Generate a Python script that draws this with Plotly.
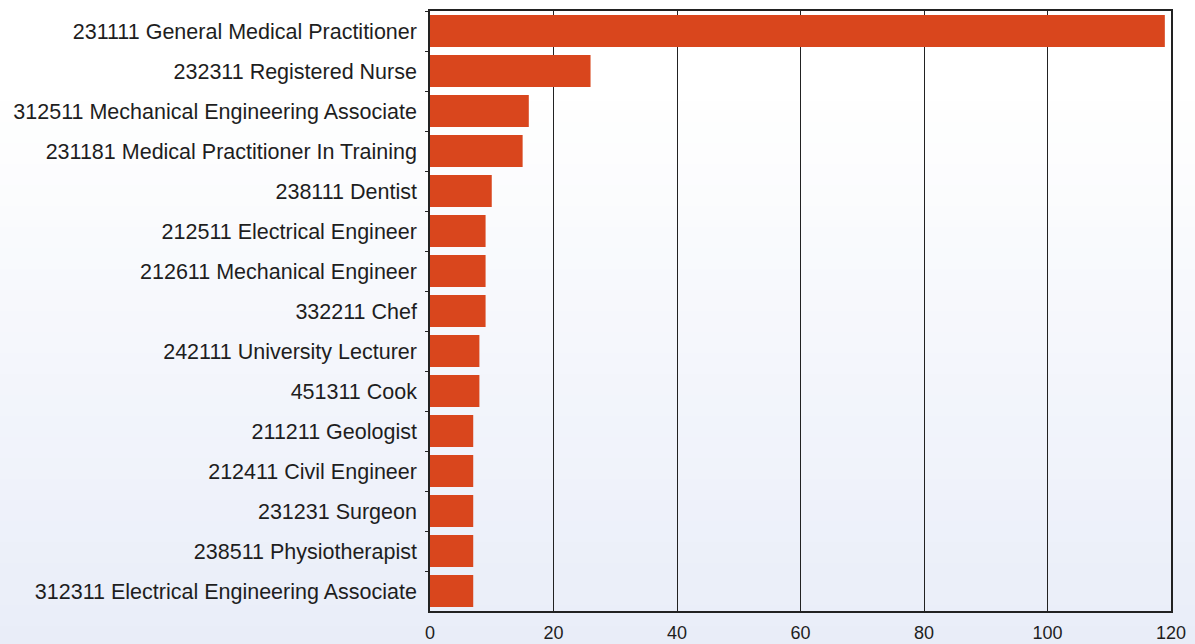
import plotly.graph_objects as go

occupations = [
    "231111 General Medical Practitioner",
    "232311 Registered Nurse",
    "312511 Mechanical Engineering Associate",
    "231181 Medical Practitioner In Training",
    "238111 Dentist",
    "212511 Electrical Engineer",
    "212611 Mechanical Engineer",
    "332211 Chef",
    "242111 University Lecturer",
    "451311 Cook",
    "211211 Geologist",
    "212411 Civil Engineer",
    "231231 Surgeon",
    "238511 Physiotherapist",
    "312311 Electrical Engineering Associate",
]
counts = [119, 26, 16, 15, 10, 9, 9, 9, 8, 8, 7, 7, 7, 7, 7]
x_ticks = [0, 20, 40, 60, 80, 100, 120]

BAR = "#D9461D"
FONT = "Liberation Sans, Arial, sans-serif"

fig = go.Figure(go.Bar(
    x=counts, y=occupations, orientation="h",
    marker=dict(color=BAR, line=dict(width=0)),
    hoverinfo="x+y",
))

# soft vertical background gradient (white at top -> pale blue at bottom)
shapes = []
n = 40
for i in range(n):
    t = i / (n - 1)  # 0 bottom, 1 top
    f = min(1.0, max(0.0, t / 0.75))
    r = int(230 + (255 - 230) * f)
    g = int(235 + (255 - 235) * f)
    b = int(248 + (255 - 248) * f)
    shapes.append(dict(type="rect", xref="paper", yref="paper",
                       x0=-1, x1=2, y0=-0.2 + 1.4 * i / n, y1=-0.2 + 1.4 * (i + 1) / n,
                       fillcolor=f"rgb({r},{g},{b})", line=dict(width=0), layer="below"))

fig.update_layout(
    width=1195, height=644,
    margin=dict(l=430, r=24, t=11, b=33),
    paper_bgcolor="#F2F4FB",
    plot_bgcolor="rgba(0,0,0,0)",
    bargap=0.2,
    showlegend=False,
    shapes=shapes,
    font=dict(family=FONT, size=18, color="#1e1e1e"),
    xaxis=dict(
        range=[0, 120], tickvals=x_ticks, ticks="",
        showgrid=True, gridcolor="#222222", gridwidth=1,
        showline=True, linecolor="#222222", linewidth=2, mirror=True,
        zeroline=False, tickfont=dict(size=18, color="#1e1e1e"),
        ticklabelstandoff=4, automargin=False,
    ),
    yaxis=dict(
        categoryorder="array", categoryarray=occupations, autorange="reversed",
        showline=True, linecolor="#222222", linewidth=1.5, mirror=True,
        ticks="outside", tickson="boundaries", ticklen=3, tickcolor="#222222",
        ticklabelstandoff=7, showgrid=False, automargin=False,
        tickfont=dict(size=21.5, color="#1e1e1e"),
    ),
)

fig.write_html(
    "out.html",
    config={"displayModeBar": False},
    post_script="document.body.style.margin='0';document.body.style.overflow='hidden';",
)
